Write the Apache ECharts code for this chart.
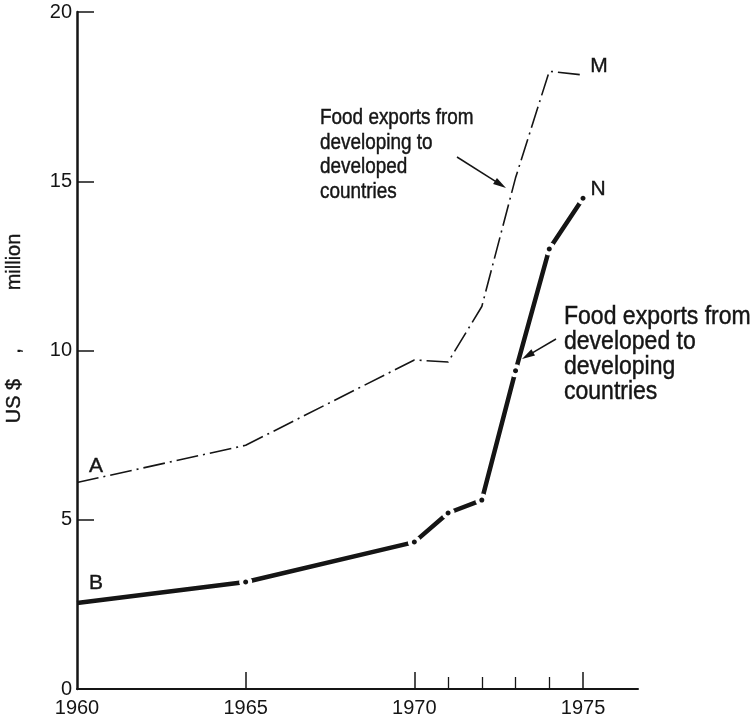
<!DOCTYPE html>
<html><head><meta charset="utf-8">
<script src="https://cdn.jsdelivr.net/npm/echarts@6/dist/echarts.min.js"></script>
<style>html,body{margin:0;padding:0;background:#fff}#c{width:753px;height:721px}</style>
</head><body><div id="c"></div>
<script>
// ---- data ----
const yearsA  = [1960, 1965, 1970, 1971, 1972, 1973, 1974, 1975];
const valuesA = [6.1, 7.2, 9.72, 9.66, 11.3, 15.1, 18.25, 18.14];
const yearsB  = [1960, 1965, 1970, 1971, 1972, 1973, 1974, 1975];
const valuesB = [2.54, 3.16, 4.34, 5.2, 5.58, 9.4, 13.0, 14.5];
const xLabelValues = [1960, 1965, 1970, 1975];
const xMajorTicks = [1965, 1970, 1975];
const xMinorTicks = [1971, 1972, 1973, 1974];
const yTickValues = [5, 10, 15, 20];
const yLabelValues = [0, 5, 10, 15, 20];
const seriesNameA = 'Food exports from developing to developed countries';
const seriesNameB = 'Food exports from developed to developing countries';
const noteA = ['Food exports from', 'developing to', 'developed', 'countries'];
const noteB = ['Food exports from', 'developed to', 'developing', 'countries'];
const endLabelsA = ['A', 'M'];
const endLabelsB = ['B', 'N'];
const yTitleParts = ['US $', ',', 'million'];

const INK = '#151515';
const SANS = '"Liberation Sans", Arial, sans-serif';

const chart = echarts.init(document.getElementById('c'), null, {renderer: 'canvas'});

function arrow(x1, y1, x2, y2) {
  const dx = x2 - x1, dy = y2 - y1, L = Math.hypot(dx, dy);
  const ux = dx / L, uy = dy / L, hl = 13, hw = 3.6;
  const bx = x2 - ux * hl, by = y2 - uy * hl;
  return [
    {type: 'line', shape: {x1: x1, y1: y1, x2: bx + ux * 2, y2: by + uy * 2}, style: {stroke: INK, lineWidth: 1.5}},
    {type: 'polygon', shape: {points: [[x2, y2], [bx - uy * hw, by + ux * hw], [bx + uy * hw, by - ux * hw]]}, style: {fill: INK}}
  ];
}
function condensed(t, x, y, size, sx) {
  return {type: 'text', x: x, y: y, scaleX: sx,
    style: {text: t, x: 0, y: 0, font: size + 'px ' + SANS, fill: INK, stroke: INK, lineWidth: 0.45, align: 'left', verticalAlign: 'middle'}};
}

const graphics = [];
noteA.forEach((t, i) => graphics.push(condensed(t, 320, 118 + i * 24.6, 22, 0.86)));
noteB.forEach((t, i) => graphics.push(condensed(t, 564, 317 + i * 25, 26, 0.885)));
graphics.push(...arrow(457, 157, 506, 188));
graphics.push(...arrow(556, 339, 522, 359));
const lbl = (t, x, y) => ({type: 'text', style: {text: t, x: x, y: y, font: '21px ' + SANS, fill: INK, stroke: INK, lineWidth: 0.4, align: 'center', verticalAlign: 'middle'}});
graphics.push(lbl(endLabelsA[0], 96, 466));
graphics.push(lbl(endLabelsB[0], 96, 583));
graphics.push(lbl(endLabelsA[1], 599, 66));
graphics.push(lbl(endLabelsB[1], 598, 189));
const yTitlePos = [401, 351, 262];
yTitleParts.forEach((t, i) => graphics.push({type: 'text', x: 14, y: yTitlePos[i], rotation: Math.PI / 2,
  style: {text: t, x: 0, y: 0, font: '20px ' + SANS, fill: INK, stroke: INK, lineWidth: 0.4, align: 'center', verticalAlign: 'middle'}}));

const option = {
  animation: false,
  backgroundColor: '#fff',
  grid: {left: 77, right: 115, top: 12, bottom: 32, containLabel: false},
  xAxis: [{
    type: 'value', min: 1960, max: 1976.63, interval: 5,
    axisLine: {show: true, onZero: false, lineStyle: {color: INK, width: 2}},
    axisTick: {show: true, inside: true, length: 17, customValues: xMajorTicks, lineStyle: {color: INK, width: 1.5}},
    axisLabel: {show: true, customValues: xLabelValues, margin: 9, color: INK, fontSize: 20, fontFamily: SANS, formatter: v => String(v)},
    splitLine: {show: false}
  }, {
    type: 'value', min: 1960, max: 1976.63, position: 'bottom',
    axisLine: {show: false},
    axisTick: {show: true, inside: true, length: 12, customValues: xMinorTicks, lineStyle: {color: INK, width: 1.3}},
    axisLabel: {show: false},
    splitLine: {show: false}
  }],
  yAxis: {
    type: 'value', min: 0, max: 20, interval: 5,
    axisLine: {show: true, onZero: false, lineStyle: {color: INK, width: 2.5}},
    axisTick: {show: true, inside: true, length: 17, customValues: yTickValues, lineStyle: {color: INK, width: 1.5}},
    axisLabel: {show: true, customValues: yLabelValues, margin: 5, color: INK, fontSize: 20, fontFamily: SANS},
    splitLine: {show: false}
  },
  series: [{
    name: seriesNameA, type: 'line', xAxisIndex: 0,
    data: yearsA.map((x, i) => [x, valuesA[i]]),
    symbol: 'none', silent: true,
    lineStyle: {color: INK, width: 1.6, type: [22, 5, 2, 5]}
  }, {
    name: seriesNameB, type: 'line', xAxisIndex: 0,
    data: yearsB.map((x, i) => i === 0 ? {value: [x, valuesB[i]], symbol: 'none'} : [x, valuesB[i]]),
    symbol: 'circle', symbolSize: 9, showAllSymbol: true, silent: true,
    itemStyle: {color: INK, borderColor: '#fff', borderWidth: 4},
    lineStyle: {color: INK, width: 4.5}
  }],
  graphic: graphics
};
chart.setOption(option);
</script>
</body></html>
